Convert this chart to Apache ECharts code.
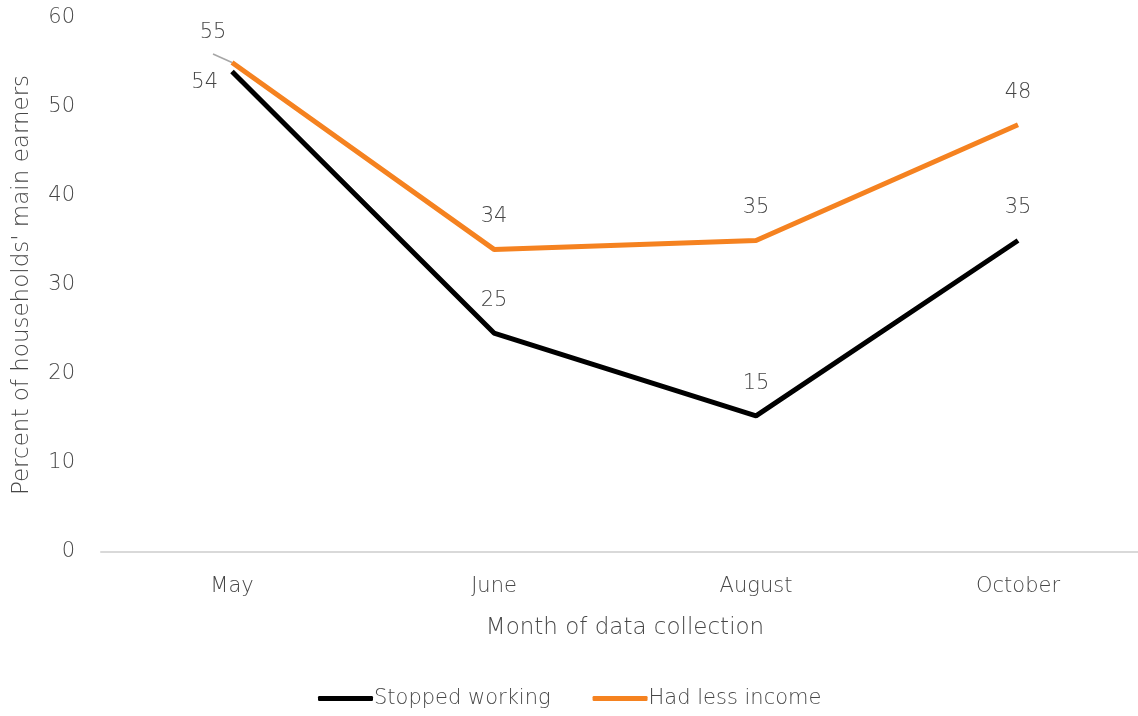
<!DOCTYPE html>
<html lang="en">
	<head>
		<meta charset="utf-8">
		<title>Main earners</title>
		<script src="https://cdn.jsdelivr.net/npm/echarts@6/dist/echarts.min.js"></script>
		<style>
			html, body { margin: 0; padding: 0; background: #fff; }
			#container { width: 1138px; height: 716px; }
		</style>
	</head>
	<body>
		<div id="container"></div>
		<script type="text/javascript">
            var months = ['May', 'June', 'August', 'October'];
            var stoppedWorking = [54, 24.6, 15.3, 35];
            var lessIncome = [55, 34, 35, 48];
            var yTicks = [0, 10, 20, 30, 40, 50, 60];

            var font = '"DejaVu Sans", sans-serif';
            var grey = '#474747';
            var weight = 200;

            var myChart = echarts.init(document.getElementById('container'));

            function labelData(values, firstLabel) {
                return values.map(function (v, i) {
                    if (i === 0) {
                        return { value: v, label: firstLabel.label, labelLine: firstLabel.labelLine };
                    }
                    return v;
                });
            }

            var labelStyle = {
                show: true,
                position: 'top',
                distance: 22,
                fontSize: 21,
                fontWeight: weight,
                color: grey,
                fontFamily: font,
                formatter: function (p) { return Math.round(p.value); }
            };

            var option = {
                animation: false,
                textStyle: { fontFamily: font },
                grid: { left: 101, right: -11, top: 18, bottom: 164, outerBoundsMode: 'none' },
                legend: {
                    bottom: 2,
                    left: 313,
                    itemWidth: 55,
                    itemHeight: 5,
                    itemGap: 42,
                    icon: 'roundRect',
                    textStyle: { fontSize: 21, fontWeight: weight, color: grey, fontFamily: font, padding: [0, 0, 0, -4] },
                    data: ['Stopped working', 'Had less income']
                },
                xAxis: {
                    type: 'category',
                    data: months,
                    boundaryGap: true,
                    name: 'Month of data collection',
                    nameLocation: 'middle',
                    nameGap: 65,
                    nameTextStyle: { fontSize: 23, fontWeight: weight, color: grey, fontFamily: font },
                    axisLine: { lineStyle: { color: '#d9d9d9', width: 2 } },
                    axisTick: { show: false },
                    axisLabel: { fontSize: 21, fontWeight: weight, color: grey, margin: 24, fontFamily: font }
                },
                yAxis: {
                    type: 'value',
                    min: yTicks[0],
                    max: yTicks[yTicks.length - 1],
                    interval: 10,
                    name: "Percent of households' main earners",
                    nameLocation: 'middle',
                    nameGap: 67,
                    nameTextStyle: { fontSize: 23, fontWeight: weight, color: grey, fontFamily: font },
                    axisLine: { show: false },
                    axisTick: { show: false },
                    splitLine: { show: false },
                    axisLabel: { fontSize: 21, fontWeight: weight, color: grey, margin: 26, fontFamily: font }
                },
                series: [
                    {
                        name: 'Stopped working',
                        type: 'line',
                        data: labelData(stoppedWorking, {
                            label: { position: 'left', distance: 14, offset: [0, 11] }
                        }),
                        symbol: 'circle',
                        symbolSize: 0,
                        showSymbol: true,
                        lineStyle: { color: '#000000', width: 5 },
                        itemStyle: { color: '#000000' },
                        label: labelStyle,
                        z: 3
                    },
                    {
                        name: 'Had less income',
                        type: 'line',
                        data: labelData(lessIncome, {
                            label: { position: 'top', distance: 0, offset: [-19, -19] },
                            labelLine: { show: true, lineStyle: { color: '#a6a6a6', width: 1.5 } }
                        }),
                        symbol: 'circle',
                        symbolSize: 0,
                        showSymbol: true,
                        lineStyle: { color: '#f58220', width: 5 },
                        itemStyle: { color: '#f58220' },
                        label: labelStyle,
                        z: 2
                    }
                ]
            };

            myChart.setOption(option, true);
		</script>
	</body>
</html>
